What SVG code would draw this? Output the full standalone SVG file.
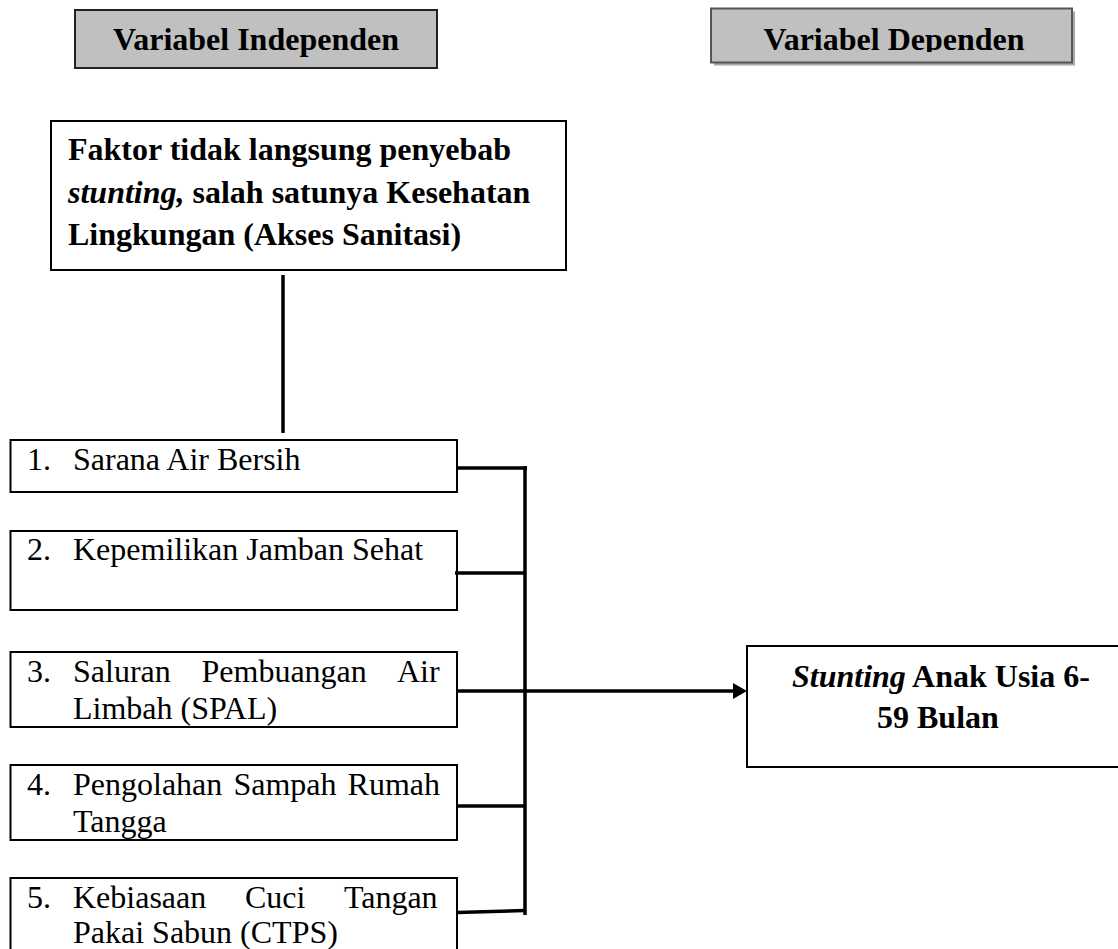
<svg xmlns="http://www.w3.org/2000/svg" width="1118" height="949" viewBox="0 0 1118 949">
<style>
text{font-family:"Liberation Serif","Times New Roman",serif;font-size:32px;fill:#000}
.b{font-weight:bold}
.bi{font-weight:bold;font-style:italic}
.box{fill:#fff;stroke:#000;stroke-width:2}
.hdr{fill:#c0c0c0;stroke:#222;stroke-width:2}
.con{fill:none;stroke:#000;stroke-width:3.5;stroke-linecap:butt}
</style>
<defs>
<clipPath id="clipDep"><rect x="700" y="0" width="400" height="52"/></clipPath>
</defs>
<rect width="1118" height="949" fill="#fff"/>

<g id="hdr-independen">
<rect class="hdr" x="75" y="10" width="362" height="58"/>
<text class="b" x="256" y="50" text-anchor="middle">Variabel Independen</text>
</g>

<g id="hdr-dependen">
<rect x="714" y="11.5" width="361" height="54" fill="#a8a8a8"/>
<rect x="711" y="8.5" width="361" height="54" fill="#c0c0c0" stroke="#555" stroke-width="2"/>
<text class="b" x="894" y="50" text-anchor="middle" clip-path="url(#clipDep)">Variabel Dependen</text>
</g>

<g id="faktor">
<rect class="box" x="51" y="121" width="515" height="149"/>
<text class="b" x="68" y="160">Faktor tidak langsung penyebab</text>
<text x="68" y="203"><tspan class="bi">stunting,</tspan><tspan class="b"> salah satunya Kesehatan</tspan></text>
<text class="b" x="68" y="245">Lingkungan (Akses Sanitasi)</text>
</g>

<g id="item1">
<rect class="box" x="10.5" y="440" width="446.5" height="52"/>
<text x="27" y="470">1.</text>
<text x="73" y="470">Sarana Air Bersih</text>
</g>

<g id="item2">
<rect class="box" x="10.5" y="531" width="446.5" height="79"/>
<text x="27" y="560">2.</text>
<text x="73" y="560">Kepemilikan Jamban Sehat</text>
</g>

<g id="item3">
<rect class="box" x="10.5" y="652" width="446.5" height="75"/>
<text x="27" y="682">3.</text>
<text y="682"><tspan x="73">Saluran</tspan><tspan x="201.5">Pembuangan</tspan><tspan x="397">Air</tspan></text>
<text x="73" y="719">Limbah (SPAL)</text>
</g>

<g id="item4">
<rect class="box" x="10.5" y="765" width="446.5" height="75"/>
<text x="27" y="795">4.</text>
<text y="795"><tspan x="73">Pengolahan</tspan><tspan x="233.4">Sampah</tspan><tspan x="347.6">Rumah</tspan></text>
<text x="73" y="832">Tangga</text>
</g>

<g id="item5">
<rect class="box" x="10.5" y="878" width="446.5" height="90"/>
<text x="27" y="908">5.</text>
<text y="908"><tspan x="73">Kebiasaan</tspan><tspan x="244.9">Cuci</tspan><tspan x="343.9">Tangan</tspan></text>
<text x="73" y="943">Pakai Sabun (CTPS)</text>
</g>

<g id="stunting">
<rect class="box" x="747" y="646" width="390" height="121"/>
<text x="792" y="687"><tspan class="bi">Stunting</tspan><tspan class="b"> Anak Usia 6-</tspan></text>
<text class="b" x="877" y="728">59 Bulan</text>
</g>

<g id="connectors">
<line class="con" x1="283" y1="275" x2="283" y2="433"/>
<line class="con" x1="525" y1="466" x2="525" y2="915" stroke-width="4"/>
<line class="con" x1="457" y1="468" x2="527" y2="468"/>
<line class="con" x1="455" y1="573" x2="525" y2="573"/>
<line class="con" x1="457" y1="691" x2="735" y2="691"/>
<polygon points="733,683 747,691 733,699" fill="#000"/>
<line class="con" x1="457" y1="806" x2="525" y2="806"/>
<line class="con" x1="457" y1="912.5" x2="525" y2="910.5"/>
</g>
</svg>
